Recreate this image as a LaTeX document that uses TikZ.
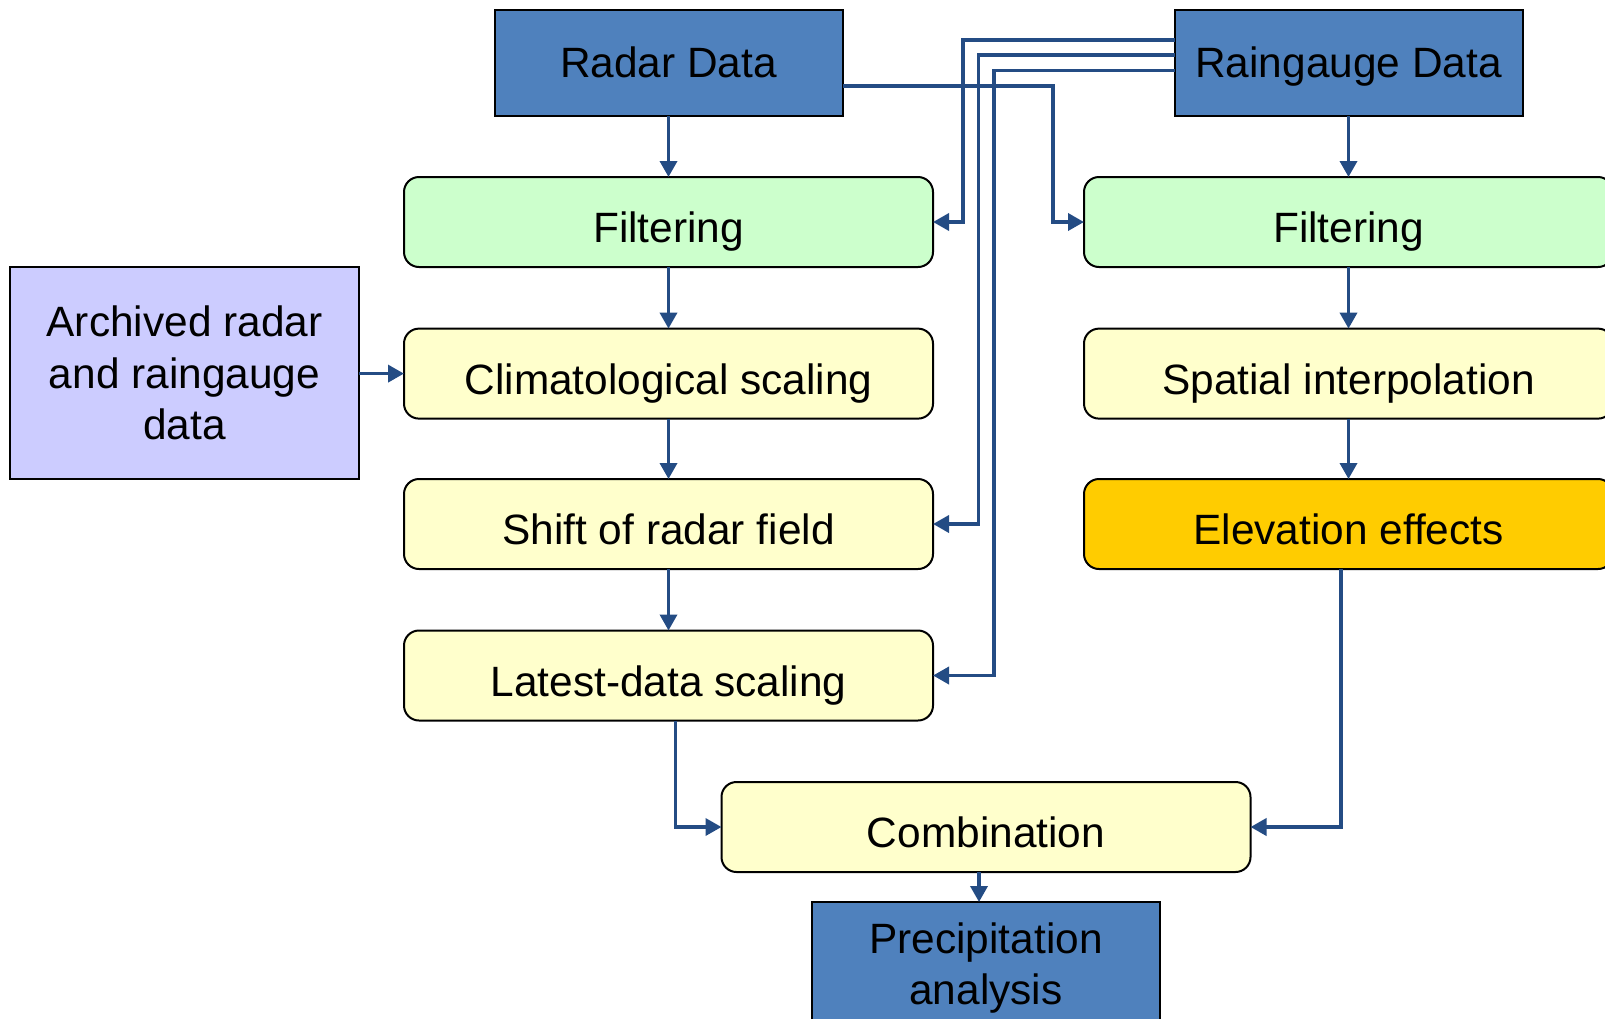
\documentclass[tikz,border=0pt]{standalone}
\usepackage{fontspec}
\setmainfont{Liberation Sans}
\usetikzlibrary{arrows.meta,calc}
\definecolor{conn}{RGB}{36,76,132}
\definecolor{dblue}{RGB}{79,129,189}
\definecolor{lgreen}{RGB}{204,255,204}
\definecolor{lyellow}{RGB}{255,255,204}
\definecolor{gold}{RGB}{255,204,0}
\definecolor{lviolet}{RGB}{204,204,255}
\begin{document}
\begin{tikzpicture}[x=1pt,y=-1pt,
  every node/.style={inner sep=0pt,outer sep=0pt,align=center,font=\fontsize{42.4}{51.5}\selectfont},
  sqbox/.style={draw=black,line width=2pt,fill=dblue,minimum width=348pt,minimum height=106pt},
  onel/.style={text height=36pt,text depth=8pt},
  rbox/.style={draw=black,line width=2pt,rounded corners=15pt,minimum width=529pt,minimum height=90pt,text height=50pt,text depth=9pt},
  greenbox/.style={rbox,fill=lgreen},
  yelbox/.style={rbox,fill=lyellow},
  goldbox/.style={rbox,fill=gold},
  arr/.style={draw=conn,line width=3.6pt,-{Triangle[length=16pt,width=17pt]}}]
\useasboundingbox (0,0) rectangle (1605,1018);
\node[sqbox,onel] (radar) at (668.5,63) {Radar Data};
\node[sqbox,onel] (rain) at (1348.5,63) {Raingauge Data};
\node[draw=black,line width=2pt,fill=lviolet,minimum width=349pt,minimum height=212pt] (arch) at (184.5,373) {Archived radar\\and raingauge\\data};
\node[greenbox] (filtL) at (668.5,222) {Filtering};
\node[yelbox] (climL) at (668.5,373.6) {Climatological scaling};
\node[yelbox] (shiftL) at (668.5,524) {Shift of radar field};
\node[yelbox] (latestL) at (668.5,675.5) {Latest-data scaling};
\node[greenbox] (filtR) at (1348.5,222) {Filtering};
\node[yelbox] (spatR) at (1348.5,373.6) {Spatial interpolation};
\node[goldbox] (elevR) at (1348.5,524) {Elevation effects};
\node[yelbox] (comb) at (986,827) {Combination};
\node[sqbox,minimum height=132pt] (precip) at (986,968) {Precipitation\\analysis};
\coordinate (v1) at (963,0);
\coordinate (v2) at (978.5,0);
\coordinate (v3) at (994,0);
\coordinate (v4) at (1053,0);
% left column
\draw[arr] (radar.south) -- (filtL.north);
\draw[arr] (filtL.south) -- (climL.north);
\draw[arr] (climL.south) -- (shiftL.north);
\draw[arr] (shiftL.south) -- (latestL.north);
\draw[arr] (arch.east |- climL.west) -- (climL.west);
% right column
\draw[arr] (rain.south) -- (filtR.north);
\draw[arr] (filtR.south) -- (spatR.north);
\draw[arr] (spatR.south) -- (elevR.north);
% crossings
\draw[arr] ([yshift=23pt]rain.west) -| (v1 |- filtL.east) -- (filtL.east);
\draw[arr] ([yshift=8pt]rain.west) -| (v2 |- shiftL.east) -- (shiftL.east);
\draw[arr] ([yshift=-7.5pt]rain.west) -| (v3 |- latestL.east) -- (latestL.east);
\draw[arr] ([yshift=-23pt]radar.east) -| (v4 |- filtR.west) -- (filtR.west);
% to combination
\draw[arr] ([xshift=7pt]latestL.south) |- (comb.west);
\draw[arr] ([xshift=-7.5pt]elevR.south) |- (comb.east);
\draw[arr] ([xshift=-7pt]comb.south) -- ([xshift=-7pt]precip.north);
\end{tikzpicture}
\end{document}
